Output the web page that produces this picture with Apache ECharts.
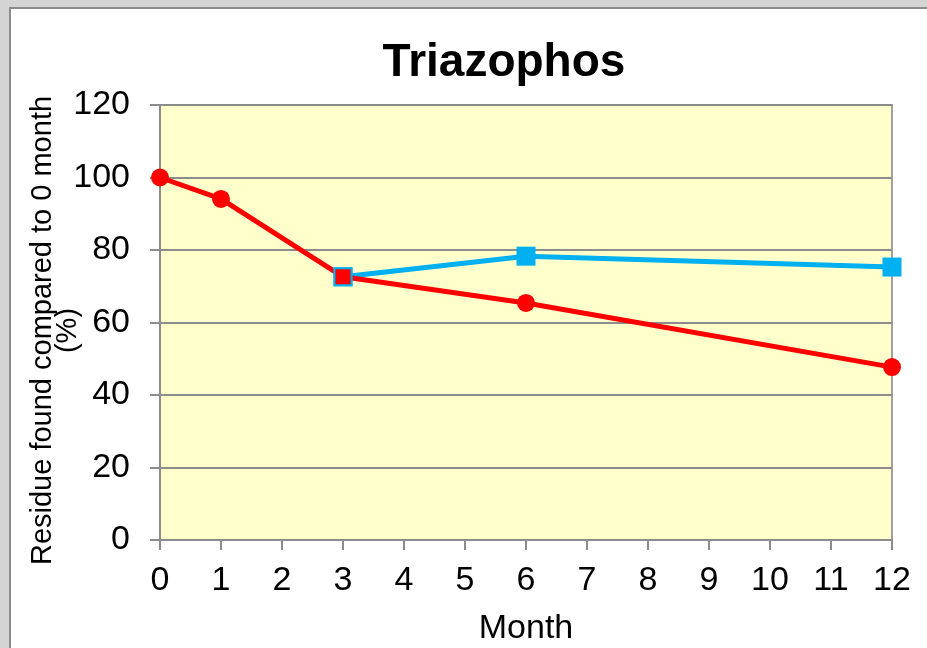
<!DOCTYPE html>
<html lang="en">
<head>
<meta charset="utf-8" />
<title>Triazophos</title>
<script src="https://cdn.jsdelivr.net/npm/echarts@6/dist/echarts.min.js"></script>
<style>
  html, body { margin: 0; padding: 0; background: #D4D4D4; overflow: hidden; }
  #chart {
    position: absolute; left: 9px; top: 7px;
    width: 916px; height: 639px;
    border-left: 2px solid #8C8C8C; border-top: 2px solid #8C8C8C;
    background: #fff;
  }
</style>
</head>
<body>
<div id="chart"></div>
<script type="text/javascript">
// months sampled
var redMonths = [0, 1, 3, 6, 12];
var redValues = [100, 94.1, 72.6, 65.4, 47.7];
var blueMonths = [3, 6, 12];
var blueValues = [72.6, 78.3, 75.3];

var font = 'Liberation Sans, Arial, sans-serif';
var chart = echarts.init(document.getElementById('chart'));

var redData = redMonths.map(function (m, i) {
    var p = { value: [m, redValues[i]] };
    if (m === 3) {
        // the shared point is drawn as a square with a blue edge
        p.symbol = 'rect';
        p.symbolSize = 17;
        p.itemStyle = { color: '#FF0000', borderColor: '#00B0F0', borderWidth: 2 };
    }
    return p;
});
var blueData = blueMonths.map(function (m, i) { return [m, blueValues[i]]; });

chart.setOption({
    animation: false,
    title: {
        text: 'Triazophos',
        left: 488, top: 26, textAlign: 'center',
        textStyle: { fontFamily: font, fontSize: 46, fontWeight: 'bold', color: '#000' }
    },
    grid: {
        left: 149, right: 35, top: 96, bottom: 108,
        outerBoundsMode: 'none',
        show: true, backgroundColor: '#FFFFCC', borderColor: '#A0A0A0', borderWidth: 2
    },
    xAxis: {
        type: 'value', min: 0, max: 12, interval: 1,
        name: 'Month', nameLocation: 'middle', nameGap: 72,
        nameMoveOverlap: false,
        nameTextStyle: { fontFamily: font, fontSize: 34, color: '#000' },
        axisLine: { lineStyle: { color: '#8C8C8C', width: 2 } },
        axisTick: { show: true, length: 10, lineStyle: { color: '#8C8C8C', width: 2 } },
        axisLabel: { fontFamily: font, fontSize: 34, color: '#000', margin: 24 },
        splitLine: { show: false }
    },
    yAxis: {
        type: 'value', min: 0, max: 120, interval: 20,
        name: 'Residue found compared to 0 month\n(%)',
        nameLocation: 'middle', nameRotate: 90, nameGap: 80,
        nameMoveOverlap: false,
        nameTextStyle: { fontFamily: font, fontSize: 29, color: '#000', lineHeight: 25, padding: [0, 16, 0, 0] },
        axisLine: { show: true, lineStyle: { color: '#8C8C8C', width: 2 } },
        axisTick: { show: true, length: 10, lineStyle: { color: '#8C8C8C', width: 2 } },
        axisLabel: { fontFamily: font, fontSize: 34, color: '#000', margin: 30 },
        splitLine: { lineStyle: { color: '#8C8C8C', width: 2 } }
    },
    series: [
        {
            type: 'line', data: blueData,
            symbol: 'rect', symbolSize: 19,
            lineStyle: { color: '#00B0F0', width: 5 },
            itemStyle: { color: '#00B0F0' }
        },
        {
            type: 'line', data: redData, z: 3,
            symbol: 'circle', symbolSize: 18,
            lineStyle: { color: '#FF0000', width: 5 },
            itemStyle: { color: '#FF0000' }
        }
    ]
});
</script>
</body>
</html>
